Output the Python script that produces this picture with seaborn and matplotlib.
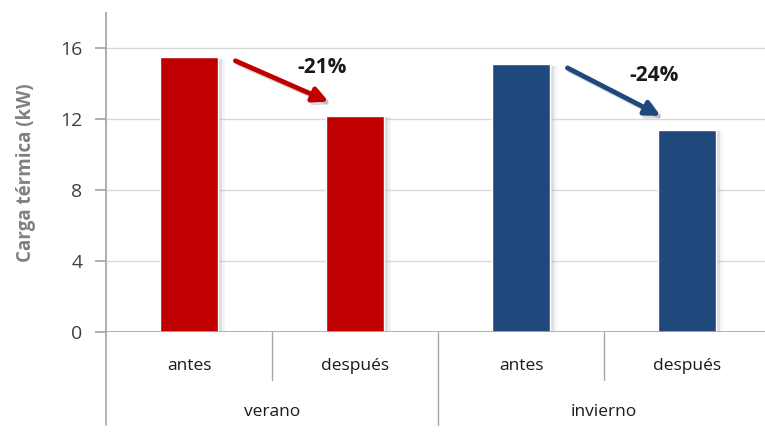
import matplotlib
matplotlib.use("Agg")
import matplotlib.pyplot as plt
import matplotlib.patheffects as pe
import seaborn as sns
import pandas as pd

# data
seasons = ["verano", "verano", "invierno", "invierno"]
stages = ["antes", "después", "antes", "después"]
values = [15.5, 12.2, 15.1, 11.4]
changes = ["-21%", "-24%"]
colors = ["#C00000", "#C00000", "#1F497D", "#1F497D"]
yticks = [0, 4, 8, 12, 16]

sns.set_theme(style="white")
plt.rcParams['font.family'] = ['Open Sans', 'DejaVu Sans']

df = pd.DataFrame({"pos": [f"{s}-{t}" for s, t in zip(seasons, stages)],
                   "val": values})

W, H = 765, 441
fig = plt.figure(figsize=(W / 100, H / 100), dpi=100)
x0, x1 = 106, 770
ytop, ybot = 13, 332
ax = fig.add_axes([x0 / W, 1 - ybot / H, (x1 - x0) / W, (ybot - ytop) / H])

sns.barplot(data=df, x="pos", y="val", hue="pos", palette=colors, legend=False,
            width=0.35, ax=ax, saturation=1)
for p in ax.patches:
    p.set_path_effects([pe.SimplePatchShadow(offset=(3, -1), shadow_rgbFace="#999999", alpha=0.25),
                        pe.SimplePatchShadow(offset=(5, -1), shadow_rgbFace="#BBBBBB", alpha=0.15),
                        pe.Normal()])

ax.set_xlim(-0.5, 3.5)
ax.set_ylim(0, 18)
ax.set_yticks(yticks)
ax.yaxis.grid(True, color="#D9D9D9", lw=1)
ax.set_axisbelow(True)
for s in ["top", "right", "bottom"]:
    ax.spines[s].set_visible(False)
ax.spines["left"].set_color("#A6A6A6")
ax.axhline(0, color="#A6A6A6", lw=1.2, zorder=3)
ax.tick_params(axis="y", length=8, pad=9, color="#A6A6A6", labelsize=14, labelcolor="#404040", left=True)
ax.set_xticks([])
ax.set_xlabel("")
ax.set_ylabel("Carga térmica (kW)", fontsize=13.5, fontweight="bold", color="#808080", labelpad=17)

# multi-level category axis
trans = ax.get_xaxis_transform()
ah = ybot - ytop
def yf(px):
    return (ybot - px) / ah
ax.plot([-0.5, -0.5], [0, yf(425)], transform=trans, color="#A6A6A6", lw=1.2, clip_on=False)
for xb in [0.5, 2.5]:
    ax.plot([xb, xb], [0, yf(380)], transform=trans, color="#A6A6A6", lw=1, clip_on=False)
ax.plot([1.5, 1.5], [0, yf(425)], transform=trans, color="#A6A6A6", lw=1, clip_on=False)
for i, t in enumerate(stages):
    ax.text(i, yf(366), t, transform=trans, ha="center", va="center", fontsize=12.5, color="#1a1a1a")
for j, s in enumerate(["verano", "invierno"]):
    ax.text(2 * j + 0.5, yf(412), s, transform=trans, ha="center", va="center", fontsize=12.5, color="#1a1a1a")

# arrows and percentage labels
for j, lab in enumerate(changes):
    i = 2 * j
    c = colors[i]
    ax.annotate("", xy=(i + 0.84, values[i + 1] + 0.8), xytext=(i + 0.28, values[i] - 0.2),
                arrowprops=dict(arrowstyle="-|>", lw=3.5, color=c, mutation_scale=22,
                                shrinkA=0, shrinkB=0,
                                path_effects=[pe.SimpleLineShadow(offset=(2, -2), alpha=0.15), pe.Normal()]))
    ax.text(i + 0.8, values[i] - 0.6, lab, ha="center", va="center", fontsize=15,
            fontweight="bold", color="#1a1a1a")

fig.savefig("out.png", dpi=100)
